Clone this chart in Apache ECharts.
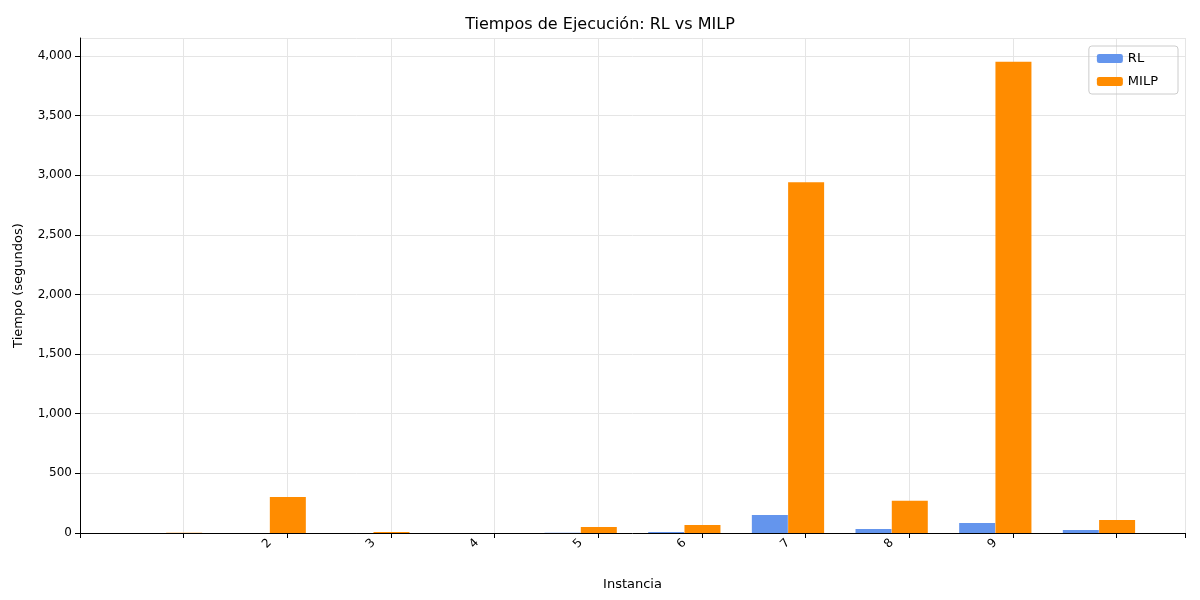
<!DOCTYPE html>
<html><head><meta charset="utf-8">
<script src="https://cdn.jsdelivr.net/npm/echarts@6/dist/echarts.min.js"></script>
<style>html,body{margin:0;background:#fff}#c{width:1200px;height:600px}</style>
</head><body><div id="c"></div>
<script>
var instancias = [1, 2, 3, 4, 5, 6, 7, 8, 9, 10];
var rl = [1, 1, 1, 1, 2, 8, 150, 34, 84, 25];
var milp = [2, 302, 8, 1, 50, 67, 2940, 270, 3950, 110];

var chart = echarts.init(document.getElementById('c'));
var font = 'DejaVu Sans';
chart.setOption({
  animation: false,
  textStyle: { fontFamily: font },
  title: { text: 'Tiempos de Ejecución: RL vs MILP', left: 'center', top: 12,
    textStyle: { fontFamily: font, fontSize: 16, fontWeight: 'normal', color: '#000' } },
  legend: { right: 22, top: 46, orient: 'vertical', itemWidth: 26, itemHeight: 9, itemGap: 10,
    borderColor: '#ccc', borderWidth: 1, borderRadius: 3, padding: [6, 20, 6, 8],
    textStyle: { fontFamily: font, fontSize: 13, color: '#000' }, data: ['RL', 'MILP'] },
  grid: { left: 80, right: 15, top: 38, bottom: 67 },
  xAxis: { type: 'value', min: 0.17, max: 10.83, interval: 1,
    name: 'Instancia', nameLocation: 'middle', nameGap: 45,
    nameTextStyle: { fontFamily: font, fontSize: 13, color: '#000' },
    axisLine: { onZero: false, lineStyle: { color: '#000' } },
    axisTick: { show: true, lineStyle: { color: '#000' } },
    axisLabel: { rotate: 45, color: '#000', fontSize: 12, showMinLabel: false, showMaxLabel: false,
      customValues: instancias, formatter: function (v) { return String(Math.round(v)); } },
    splitLine: { show: true, lineStyle: { color: '#e5e5e5' } },
    customValues: instancias
  },
  yAxis: { type: 'value', min: 0, max: 4150, interval: 500,
    name: 'Tiempo (segundos)', nameLocation: 'middle', nameGap: 55,
    nameTextStyle: { fontFamily: font, fontSize: 13, color: '#000' },
    axisLine: { show: true, lineStyle: { color: '#000' } },
    axisTick: { show: true, lineStyle: { color: '#000' } },
    axisLabel: { color: '#000', fontSize: 12, showMaxLabel: false },
    splitLine: { lineStyle: { color: '#e5e5e5' } }
  },
  series: [
    { name: 'RL', type: 'bar', barWidth: 36, barGap: '-100%', itemStyle: { color: '#6495ED' },
      data: instancias.map(function (x, i) { return [x - 0.175, rl[i]]; }) },
    { name: 'MILP', type: 'bar', barWidth: 36, barGap: '-100%', itemStyle: { color: '#FF8C00' },
      data: instancias.map(function (x, i) { return [x + 0.175, milp[i]]; }) }
  ]
});
</script></body></html>
